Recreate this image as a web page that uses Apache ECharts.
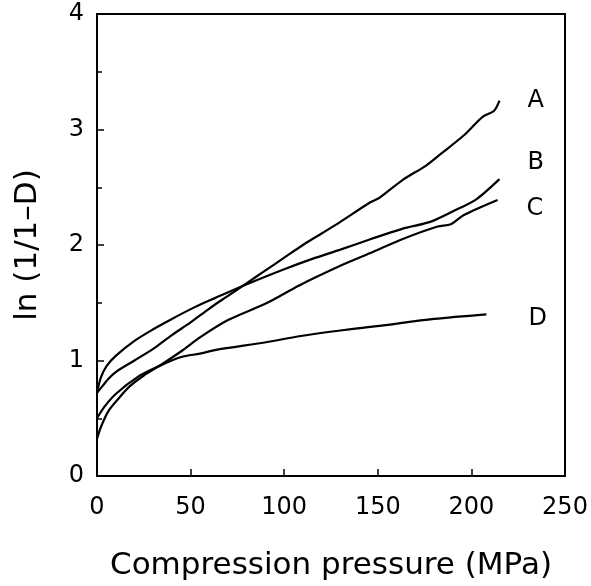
<!DOCTYPE html>
<html>
<head>
<meta charset="utf-8">
<script src="https://cdn.jsdelivr.net/npm/echarts@6/dist/echarts.min.js"></script>
<style>
  html, body { margin: 0; padding: 0; background: #fff; }
  #chart { width: 591px; height: 586px; }
</style>
</head>
<body>
<div id="chart"></div>
<script>
// curve data: pressure (MPa) / ln(1/1-D)
var pressureA = [0, 3, 6, 10, 20, 30, 40, 50, 60, 70, 80, 90, 100, 110, 120, 130, 146, 151, 163, 176, 183, 196, 206, 212, 215];
var lnA = [0.72, 0.78, 0.84, 0.9, 1.0, 1.1, 1.22, 1.33, 1.45, 1.56, 1.67, 1.78, 1.89, 2.0, 2.1, 2.2, 2.37, 2.41, 2.56, 2.69, 2.78, 2.95, 3.11, 3.16, 3.25];

var pressureB = [0, 2, 5, 10, 20, 30, 40, 52, 63, 80, 100, 115, 130, 146, 163, 178, 190, 203, 215];
var lnB = [0.72, 0.85, 0.95, 1.04, 1.17, 1.27, 1.36, 1.46, 1.54, 1.66, 1.79, 1.88, 1.96, 2.05, 2.14, 2.2, 2.29, 2.4, 2.57];

var pressureC = [0, 2, 6, 12, 17, 25, 33, 45, 55, 70, 91, 108, 130, 146, 163, 182, 189, 196, 214];
var lnC = [0.32, 0.42, 0.56, 0.68, 0.77, 0.87, 0.95, 1.08, 1.2, 1.35, 1.5, 1.65, 1.82, 1.93, 2.05, 2.16, 2.18, 2.26, 2.39];

var pressureD = [0, 4, 10, 22, 33, 45, 55, 63, 91, 108, 130, 151, 180, 208];
var lnD = [0.5, 0.6, 0.71, 0.86, 0.95, 1.03, 1.06, 1.09, 1.16, 1.21, 1.26, 1.3, 1.36, 1.4];

var curveNames = ['A', 'B', 'C', 'D'];
var xTicks = [0, 50, 100, 150, 200, 250];
var yTicks = [0, 1, 2, 3, 4];

var myChart = echarts.init(document.getElementById('chart'), null, {renderer: 'canvas'});
var font = 'DejaVu Sans';

function pairs(xs, ys) {
    return xs.map(function (x, i) { return [x, ys[i]]; });
}

// label offsets so the letters sit in a column right of the curve ends
var labelOffsets = [[20, 0], [20, -16], [21, 9], [34, 4]];
var curves = [pairs(pressureA, lnA), pairs(pressureB, lnB), pairs(pressureC, lnC), pairs(pressureD, lnD)];

var series = curves.map(function (d, i) {
    return {
        name: curveNames[i],
        type: 'line',
        data: d,
        smooth: 0.3,
        showSymbol: false,
        lineStyle: {color: '#000', width: 2.2},
        endLabel: {
            show: true,
            formatter: curveNames[i],
            color: '#000',
            fontFamily: font,
            fontSize: 24,
            offset: labelOffsets[i]
        },
        silent: true
    };
});

var option = {
    animation: false,
    backgroundColor: '#fff',
    grid: {
        left: 97,
        right: 26,
        top: 14,
        bottom: 103,
        show: true,
        borderColor: '#000',
        borderWidth: 2,
        containLabel: false
    },
    xAxis: {
        type: 'value',
        min: xTicks[0],
        max: xTicks[xTicks.length - 1],
        interval: 50,
        name: 'Compression pressure (MPa)',
        nameLocation: 'middle',
        nameGap: 74,
        nameTextStyle: {fontFamily: font, fontSize: 31, color: '#000'},
        axisLine: {lineStyle: {color: '#000', width: 2}},
        axisTick: {inside: true, length: 7, lineStyle: {color: '#000', width: 1.5}},
        axisLabel: {fontFamily: font, fontSize: 24, color: '#000', margin: 20},
        splitLine: {show: false}
    },
    yAxis: {
        type: 'value',
        min: yTicks[0],
        max: yTicks[yTicks.length - 1],
        interval: 1,
        name: 'ln (1/1–D)',
        nameLocation: 'middle',
        nameGap: 54,
        nameRotate: 90,
        nameTextStyle: {fontFamily: font, fontSize: 31, color: '#000'},
        axisLine: {lineStyle: {color: '#000', width: 2}},
        axisTick: {inside: true, length: 7, lineStyle: {color: '#000', width: 1.5}},
        minorTick: {show: true, splitNumber: 2, length: 5, lineStyle: {color: '#000', width: 1.5}},
        axisLabel: {fontFamily: font, fontSize: 24, color: '#000', margin: 13},
        splitLine: {show: false}
    },
    series: series
};

myChart.setOption(option);
</script>
</body>
</html>
